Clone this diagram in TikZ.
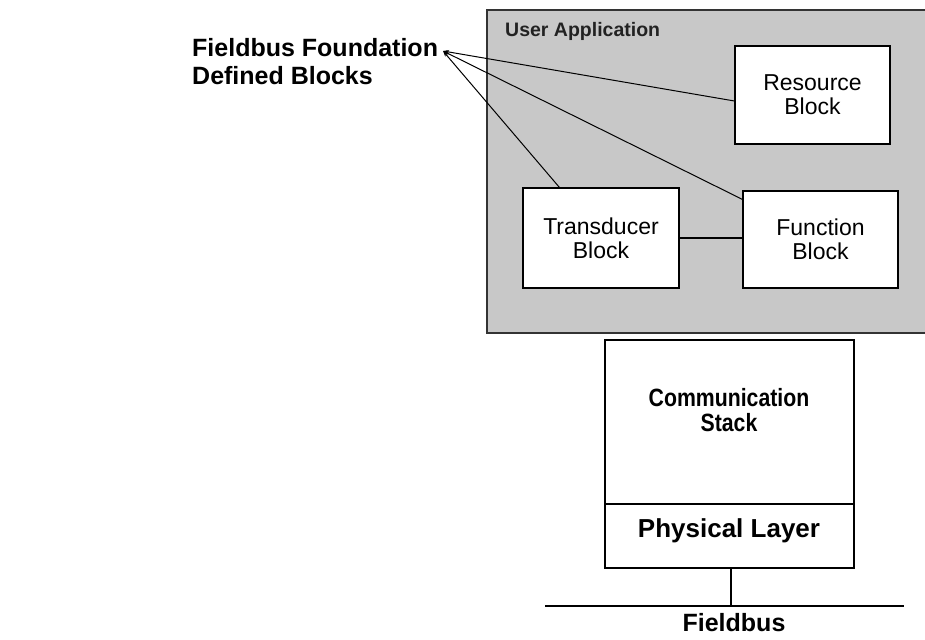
\documentclass[tikz,border=0pt]{standalone}
\usepackage{fontspec}
\usepackage{graphicx}
\setmainfont{Liberation Sans}
\usetikzlibrary{arrows.meta}
\definecolor{uagray}{HTML}{C8C8C8}
\definecolor{uaborder}{HTML}{333333}
\definecolor{uatext}{HTML}{222222}
\newcommand{\narrowtxt}[1]{\scalebox{0.85}[1]{#1}}
\begin{document}
\begin{tikzpicture}[x=1pt,y=-1pt,
  blockbox/.style={draw=black,line width=1.2pt,fill=white,inner sep=0pt,align=center,
    font=\fontsize{23}{24}\selectfont},
  stackbox/.style={draw=black,line width=1.2pt,fill=white,inner sep=0pt},
  boldlbl/.style={inner sep=0pt,font=\fontsize{25}{28}\selectfont\bfseries,align=center},
  leader/.style={line width=1pt,black}]
\useasboundingbox (0,0) rectangle (925,639);
% user application area
\node[fill=uagray,minimum width=438pt,minimum height=323pt,inner sep=0pt] (ua) at (706,171.5) {};
\draw[uaborder,line width=1.5pt] (ua.north east) -- (ua.north west) -- (ua.south west) -- (ua.south east);
\node[anchor=west,inner sep=0pt,font=\fontsize{19.5}{21}\selectfont\bfseries,text=uatext] (ualbl) at (505,31) {User Application};
% blocks
\node[blockbox,minimum width=155pt,minimum height=98pt] (res) at (812.5,95) {Resource\\Block};
\node[blockbox,minimum width=155pt,minimum height=97pt] (func) at (820.5,239.5) {Function\\Block};
\node[blockbox,minimum width=156pt,minimum height=100pt] (trans) at (601,238) {Transducer\\Block};
\draw[line width=1.2pt] (trans.east) -- (trans.east -| func.west);
% left label and leaders
\node[boldlbl,anchor=west,align=left] (ffl) at (192,62) {Fieldbus Foundation\\Defined Blocks};
\coordinate (fl) at (443,51);
\draw[leader,{Stealth[length=6pt,width=4pt]}-] (fl) -- ([yshift=-6pt]res.west);
\draw[leader,{Stealth[length=6pt,width=4pt]}-] (fl) -- ([yshift=-9pt]func.north west);
\draw[leader,{Stealth[length=6pt,width=4pt]}-] (fl) -- ([xshift=37pt]trans.north west);
% communication stack
\node[stackbox,minimum width=249pt,minimum height=164pt] (comm) at (729.5,422) {};
\node[stackbox,minimum width=249pt,minimum height=64pt] (phys) at (729.5,536) {};
\node[boldlbl,font=\fontsize{25}{25}\selectfont\bfseries] (commlbl) at (729,410) {\narrowtxt{Communication}\\\narrowtxt{Stack}};
\node[boldlbl,font=\fontsize{26}{28}\selectfont\bfseries] (physlbl) at (729,531) {Physical Layer};
% fieldbus
\coordinate (busL) at (545,606);
\coordinate (busR) at (904,606);
\coordinate (busT) at (731,606);
\draw[line width=1.2pt] (busL) -- (busR);
\draw[line width=1.2pt] (phys.south -| busT) -- (busT);
\node[boldlbl] (buslbl) at (734,623) {Fieldbus};
\end{tikzpicture}
\end{document}
